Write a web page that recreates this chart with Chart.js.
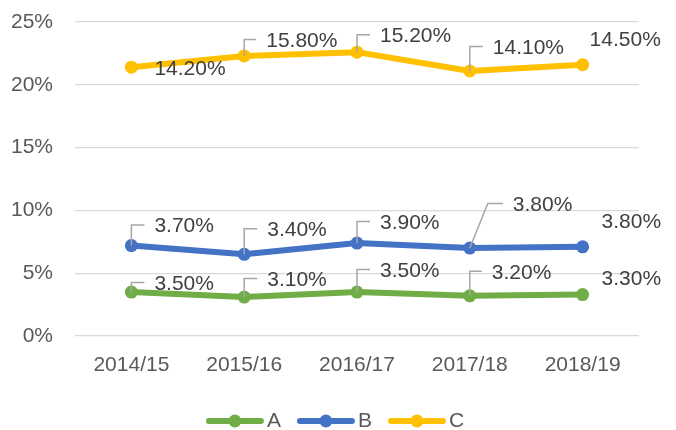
<!DOCTYPE html>
<html><head><meta charset="utf-8">
<script src="https://cdn.jsdelivr.net/npm/chart.js@4"></script>
<style>html,body{margin:0;padding:0;background:#fff}</style>
</head><body>
<canvas id="c" width="676" height="430"></canvas>
<script>
const categories = ['2014/15','2015/16','2016/17','2017/18','2018/19'];
const seriesA = [3.5, 3.1, 3.5, 3.2, 3.3];
const seriesB = [3.7, 3.4, 3.9, 3.8, 3.8];
const seriesC = [14.2, 15.8, 15.2, 14.1, 14.5];
const yTicks = [0, 5, 10, 15, 20, 25];
const seriesNames = ['A', 'B', 'C'];
const seriesColors = ['#70AD47', '#4472C4', '#FFC000'];

// label placement (styling only): [dx, dy, leaderType] per dataset, per point
const labelPlace = [
  [[23,-8,1],[23,-17,1],[23,-21,1],[22,-23,1],[19,-15,0]],
  [[23,-19,1],[23,-24,1],[23,-20,1],[43,-43,2],[19,-25,0]],
  [[23,2,0],[22,-15,1],[23,-16,1],[23,-23,1],[7,-25,0]]
];

const FONT = '"Liberation Sans", Arial, sans-serif';

const dataLabelPlugin = {
  id: 'dataLabels',
  afterDatasetsDraw(chart) {
    const ctx = chart.ctx;
    ctx.save();
    chart.data.datasets.forEach((ds, i) => {
      const meta = chart.getDatasetMeta(i);
      meta.data.forEach((pt, j) => {
        const [dx, dy, lt] = labelPlace[i][j];
        const tx = pt.x + dx, ty = pt.y + dy;
        if (lt) {
          ctx.strokeStyle = '#A6A6A6';
          ctx.lineWidth = 1.5;
          ctx.beginPath();
          const ly = ty - 1.5;
          ctx.moveTo(pt.x, pt.y);
          if (lt === 1) ctx.lineTo(pt.x, ly);
          else ctx.lineTo(pt.x + 18, ly);
          ctx.lineTo(tx - 10, ly);
          ctx.stroke();
        }
        ctx.fillStyle = '#404040';
        ctx.font = '21px ' + FONT;
        ctx.textAlign = 'left';
        ctx.textBaseline = 'middle';
        ctx.fillText(ds.rawValues[j].toFixed(2) + '%', tx, ty);
      });
    });
    ctx.restore();
  }
};

const legendPlugin = {
  id: 'lineLegend',
  afterDraw(chart) {
    const ctx = chart.ctx;
    ctx.save();
    ctx.font = '21px ' + FONT;
    const lineW = 58, gapText = 3, gapItem = 16;
    const items = chart.data.datasets.map(ds => ({ label: ds.label, color: ds.borderColor, w: lineW + gapText + ctx.measureText(ds.label).width }));
    const total = items.reduce((s, it) => s + it.w, 0) + gapItem * (items.length - 1);
    let x = 335 - total / 2;
    const y = 421;
    items.forEach(it => {
      ctx.strokeStyle = it.color;
      ctx.lineWidth = 6;
      ctx.lineCap = 'round';
      ctx.beginPath();
      ctx.moveTo(x + 3, y);
      ctx.lineTo(x + lineW - 3, y);
      ctx.stroke();
      ctx.fillStyle = it.color;
      ctx.beginPath();
      ctx.arc(x + lineW / 2, y, 6.5, 0, Math.PI * 2);
      ctx.fill();
      ctx.fillStyle = '#595959';
      ctx.textAlign = 'left';
      ctx.textBaseline = 'middle';
      ctx.fillText(it.label, x + lineW + gapText, y);
      x += it.w + gapItem;
    });
    ctx.restore();
  }
};

const rawSeries = [seriesA, seriesB, seriesC];
const datasets = rawSeries.map((vals, i) => ({
  label: seriesNames[i],
  data: vals,
  rawValues: vals,
  borderColor: seriesColors[i],
  backgroundColor: seriesColors[i],
  borderWidth: 6,
  borderCapStyle: 'round',
  borderJoinStyle: 'round',
  pointRadius: 6.5,
  pointHoverRadius: 6.5,
  pointBorderWidth: 0,
  pointBackgroundColor: seriesColors[i],
  fill: false,
  tension: 0
}));

new Chart(document.getElementById('c'), {
  type: 'line',
  data: { labels: categories, datasets },
  options: {
    responsive: false,
    animation: false,
    layout: { padding: { left: 0, right: 37, top: 22, bottom: 46 } },
    plugins: { legend: { display: false }, tooltip: { enabled: false } },
    scales: {
      x: {
        offset: true,
        grid: { display: false, drawTicks: false },
        border: { display: false },
        ticks: { color: '#595959', font: { family: FONT, size: 21 }, padding: 17, maxRotation: 0 },
        afterFit(s) { s.height = 48; s.paddingLeft = 0; s.paddingRight = 0; }
      },
      y: {
        stacked: true,
        min: yTicks[0],
        max: yTicks[yTicks.length - 1],
        afterBuildTicks(s) { s.ticks = yTicks.map(v => ({ value: v })); },
        grid: { color: '#D9D9D9', lineWidth: 1.3, drawTicks: false },
        border: { display: false },
        ticks: { color: '#595959', font: { family: FONT, size: 21 }, padding: 22, callback: v => v + '%' },
        afterFit(s) { s.width = 75; s.paddingTop = 0; s.paddingBottom = 0; }
      }
    }
  },
  plugins: [dataLabelPlugin, legendPlugin]
});
</script>
</body></html>
